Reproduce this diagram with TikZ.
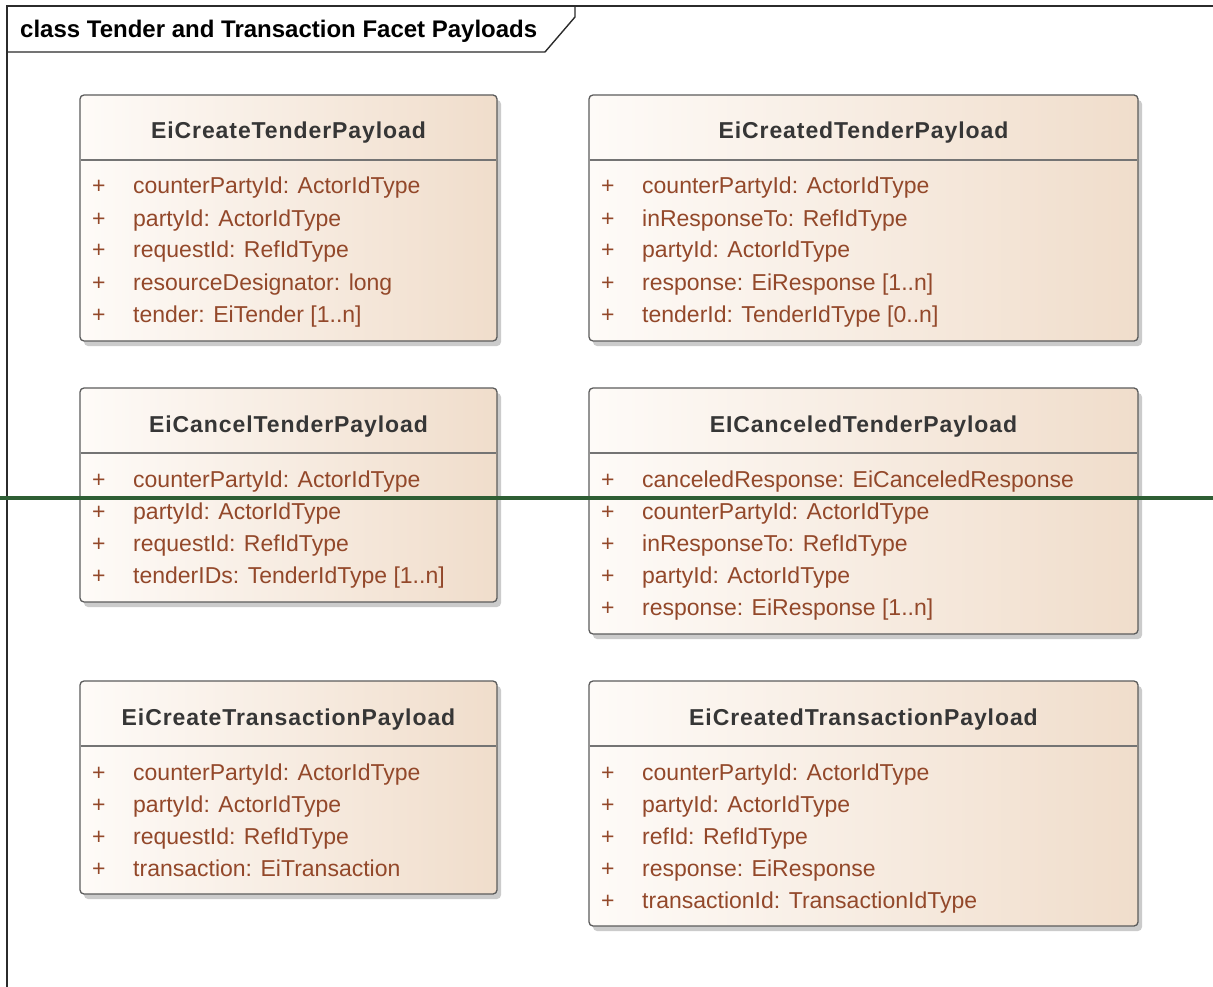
\documentclass[tikz,border=0pt]{standalone}
\usepackage{fontspec}
\setmainfont{Liberation Sans}
\usetikzlibrary{shadows,calc}

\definecolor{frameline}{HTML}{2B2B2B}
\definecolor{boxline}{HTML}{5C5C5C}
\definecolor{boxleft}{HTML}{FEFBF8}
\definecolor{boxright}{HTML}{F0DDCB}
\definecolor{attrtext}{HTML}{93482A}
\definecolor{titletext}{HTML}{363636}
\definecolor{rulegreen}{HTML}{2E5E34}

\tikzset{
  classbox/.style={draw=boxline, line width=1.3pt, rounded corners=4pt,
    left color=boxleft, right color=boxright, inner sep=0pt, outer sep=0pt,
    drop shadow={shadow xshift=4pt, shadow yshift=-5pt, opacity=0.45, fill=black!45}},
  divider/.style={draw=boxline!85, line width=1.6pt},
  classtitle/.style={anchor=base, inner sep=0pt, text=titletext,
    font=\bfseries\fontsize{23}{26}\selectfont\addfontfeature{LetterSpace=4}},
  attr/.style={anchor=base west, inner sep=0pt, text=attrtext,
    font=\fontsize{23}{26}\selectfont},
  framelabel/.style={anchor=base west, inner sep=0pt, text=black,
    font=\bfseries\fontsize{24}{27}\selectfont},
}

% A class box: #1 name, #2 left x, #3 top y, #4 width, #5 height, #6 title, #7 attributes
\newcommand{\payloadclass}[7]{%
  \node[classbox, minimum width=#4, minimum height=#5, anchor=north west] (#1) at (#2,#3) {};
  \draw[divider] ($(#1.north west)+(0.7,65)$) -- ($(#1.north east)+(-0.7,65)$);
  \node[classtitle] (#1-title) at ($(#1.north)+(0,44)$) {#6};
  \foreach \row [count=\i] in {#7} {
    \node[attr] (#1-plus\i) at ($(#1.north west)+(12,99+32*\i-32)$) {+};
    \node[attr] (#1-attr\i) at ($(#1.north west)+(53,99+32*\i-32)$) {\row};
  }%
}

\begin{document}
\begin{tikzpicture}[x=1pt,y=-1pt]
  \useasboundingbox (0,0) rectangle (1213,987);
  \fill[white] (0,0) rectangle (1213,987);

  % diagram frame and its name tab
  \draw[frameline, line width=1.4pt] (7,1000) -- (7,6) -- (1230,6);
  \draw[frameline, line width=1.4pt] (7,52) -- (545,52) -- (575,17) -- (575,6);
  \node[framelabel] (frametitle) at (20,38) {class Tender and Transaction Facet Payloads};

  \payloadclass{createtender}{80}{95}{417}{246}{EiCreateTenderPayload}%
    {{counterPartyId: ActorIdType},{partyId: ActorIdType},{requestId: RefIdType},{resourceDesignator: long},{tender: EiTender [1..n]}}
  \payloadclass{createdtender}{589}{95}{549}{246}{EiCreatedTenderPayload}%
    {{counterPartyId: ActorIdType},{inResponseTo: RefIdType},{partyId: ActorIdType},{response: EiResponse [1..n]},{tenderId: TenderIdType [0..n]}}
  \payloadclass{canceltender}{80}{388}{417}{214}{EiCancelTenderPayload}%
    {{counterPartyId: ActorIdType},{partyId: ActorIdType},{requestId: RefIdType},{tenderIDs: TenderIdType [1..n]}}
  \payloadclass{canceledtender}{589}{388}{549}{246}{EICanceledTenderPayload}%
    {{canceledResponse: EiCanceledResponse},{counterPartyId: ActorIdType},{inResponseTo: RefIdType},{partyId: ActorIdType},{response: EiResponse [1..n]}}
  \payloadclass{createtransaction}{80}{681}{417}{213}{EiCreateTransactionPayload}%
    {{counterPartyId: ActorIdType},{partyId: ActorIdType},{requestId: RefIdType},{transaction: EiTransaction}}
  \payloadclass{createdtransaction}{589}{681}{549}{245}{EiCreatedTransactionPayload}%
    {{counterPartyId: ActorIdType},{partyId: ActorIdType},{refId: RefIdType},{response: EiResponse},{transactionId: TransactionIdType}}

  % horizontal green rule across the sheet
  \coordinate (ruleL) at (0,498);
  \coordinate (ruleR) at (1213,498);
  \draw[rulegreen, line width=4pt] (ruleL) -- (ruleR);
\end{tikzpicture}
\end{document}
